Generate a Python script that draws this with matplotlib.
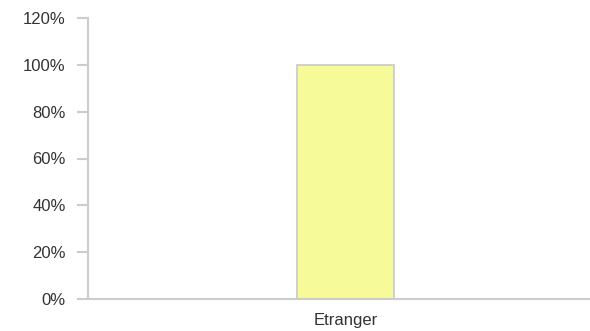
import matplotlib
matplotlib.use("Agg")
import matplotlib.pyplot as plt
from matplotlib.ticker import FuncFormatter

categories = ["Etranger"]
values = [100]
yticks = [0, 20, 40, 60, 80, 100, 120]

plt.rcParams["font.family"] = ["Liberation Sans", "DejaVu Sans"]

fig = plt.figure(figsize=(5.9, 3.31), dpi=100)
ax = fig.add_axes([88 / 590, 1 - 299 / 331, 1 - 88 / 590, (299 - 18) / 331])

x = list(range(len(categories)))
ax.bar(x, values, width=0.193, color="#f7fa98", edgecolor="#c8c8c8", linewidth=1.2)

ax.set_xlim(-0.513, 0.487)
ax.set_ylim(0, 120)
ax.set_yticks(yticks)
ax.yaxis.set_major_formatter(FuncFormatter(lambda v, p: f"{v:.0f}%"))
ax.set_xticks(x)
ax.set_xticklabels(categories)

for side in ["top", "right"]:
    ax.spines[side].set_visible(False)
for side in ["left", "bottom"]:
    ax.spines[side].set_color("#cccccc")
    ax.spines[side].set_linewidth(1.5)

ax.tick_params(axis="y", length=8, width=1.5, color="#cccccc", pad=8,
               labelsize=12, labelcolor="#333333")
ax.tick_params(axis="x", length=0, pad=10, labelsize=12, labelcolor="#333333")

fig.savefig("out.png", dpi=100)
